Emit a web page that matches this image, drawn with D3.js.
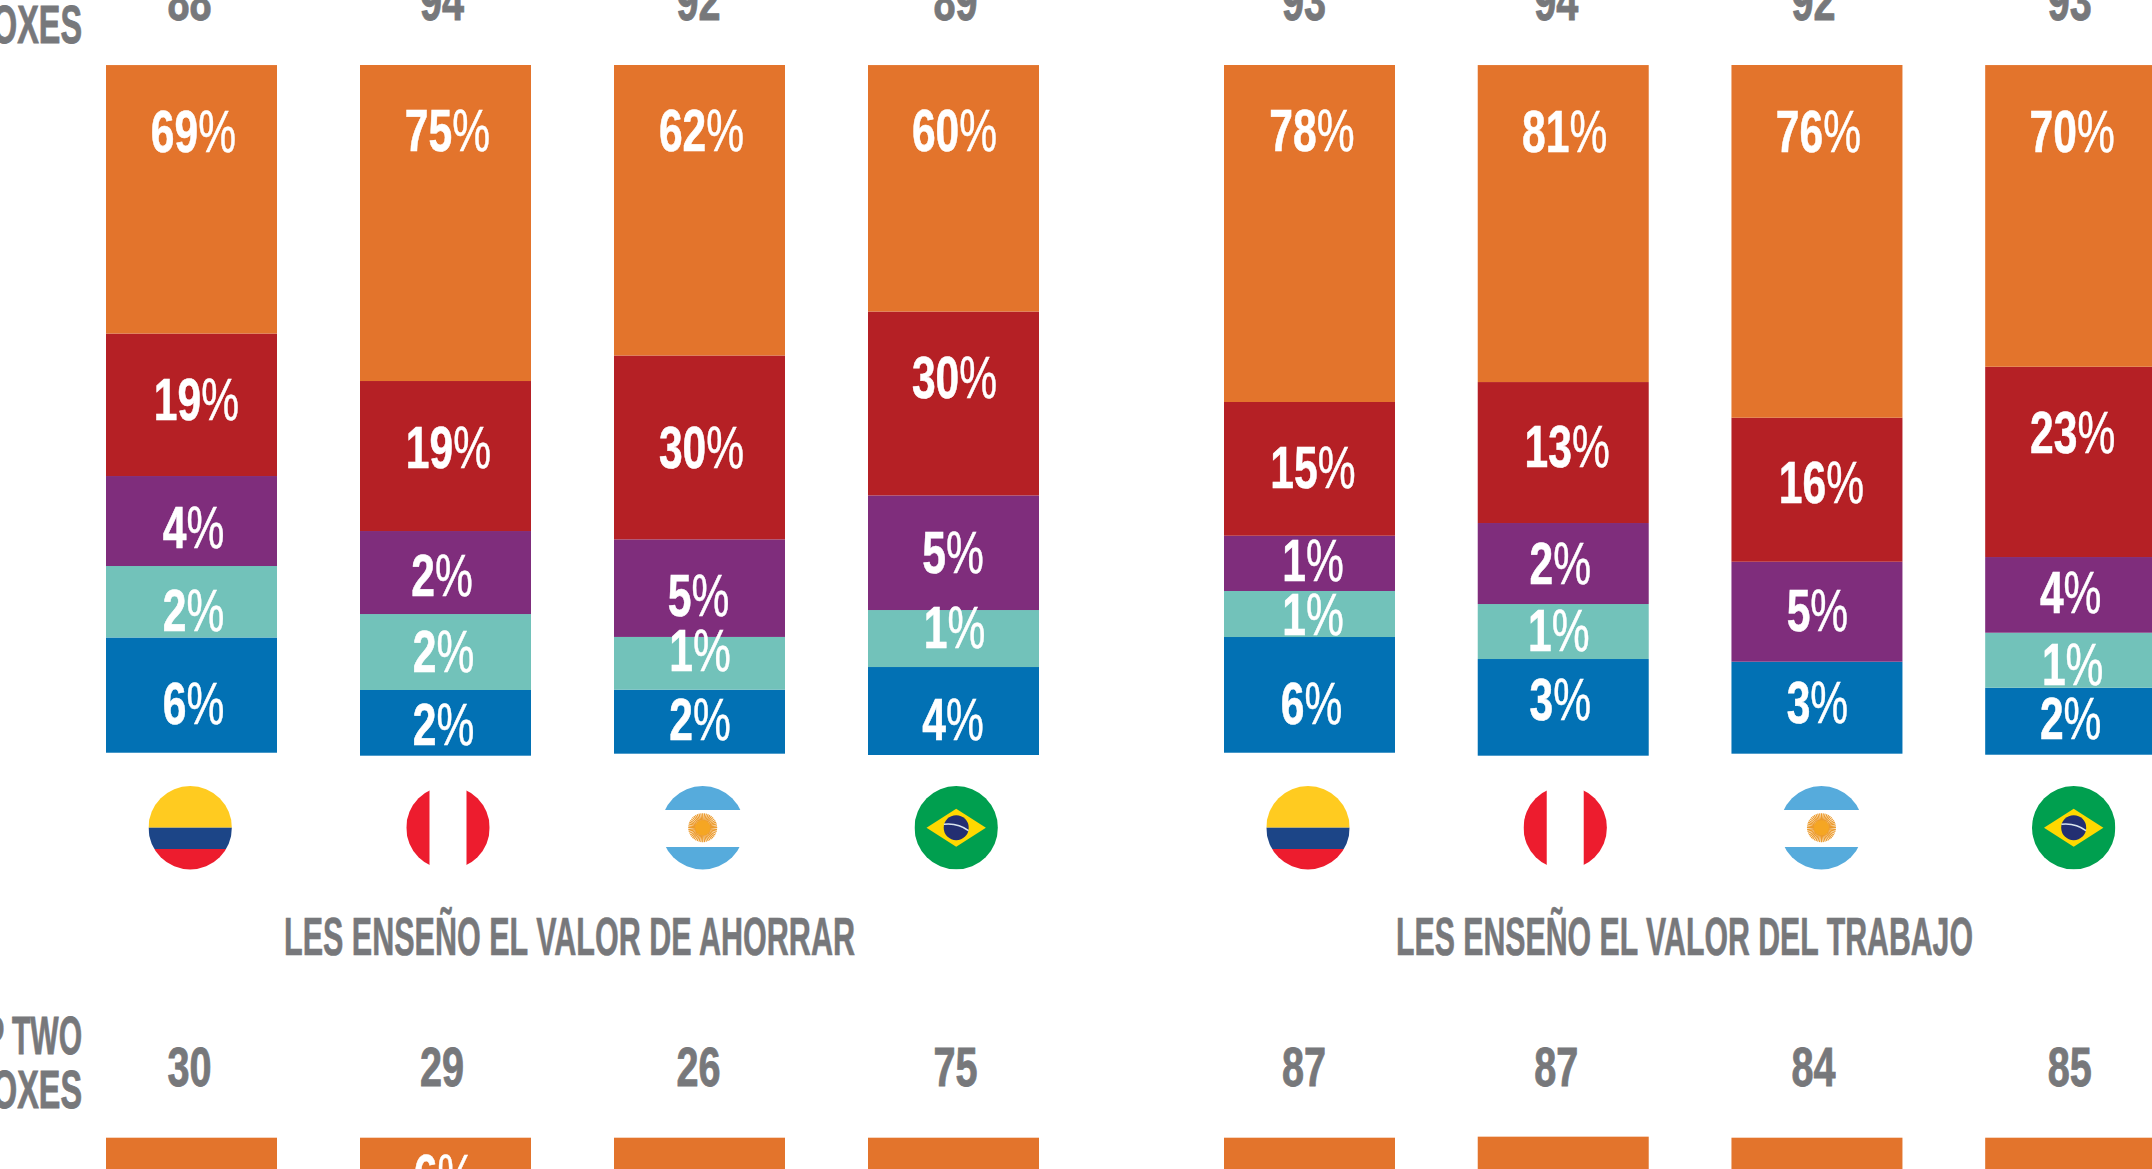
<!DOCTYPE html>
<html><head><meta charset="utf-8">
<script src="https://cdn.jsdelivr.net/npm/d3@7/dist/d3.min.js"></script>
<style>html,body{margin:0;padding:0;background:#fff;overflow:hidden}svg{display:block}
text{font-family:"Liberation Sans Narrow","Liberation Sans",sans-serif;font-weight:700}</style>
</head><body><svg id="c" width="2152" height="1169"></svg>
<script>
// ---------- data ----------
const countries = ["Colombia","Perú","Argentina","Brasil"];
const topTwoRow1 = [88,94,92,89,93,94,92,93];
const topTwoRow2 = [30,29,26,75,87,87,84,85];
const titles = ["LES ENSEÑO EL VALOR DE AHORRAR","LES ENSEÑO EL VALOR DEL TRABAJO"];
// printed labels (%)
const labelOrange = [69,75,62,60,78,81,76,70];
const labelRed    = [19,19,30,30,15,13,16,23];
const labelPurple = [4,2,5,5,1,2,5,4];
const labelTeal   = [2,2,1,1,1,1,null,1];
const labelBlue   = [6,2,2,4,6,3,3,2];
// drawn segment sizes (% of column height)
const baseShare   = [0.33,-0.10,0.19,0,0.33,-0.10,0.19,0.04];
const blueShare   = [16.70,9.52,9.28,12.75,16.77,14.01,13.33,9.71];
const tealShare   = [10.36,11.01,7.64,8.26,6.67,7.97,0,7.97];
const purpleShare = [13.04,12.03,14.14,16.61,8.01,11.74,14.49,10.97];
const redShare    = [20.65,21.74,26.65,26.65,19.38,20.43,20.87,27.58];
const orangeShare = [38.91,45.80,42.10,35.72,48.84,45.94,51.12,43.72];
// second row: only the top of the orange segment is visible
const orangeShareRow2 = [6,6,6,6,6,6.15,6,6];
const labelOrangeRow2 = [null,6,null,null,null,null,null,null];

// ---------- layout (offsets of labels from their bar / segment centre, px) ----------
const seriesKeys = ["base","blue","teal","purple","red","orange"];
const colors = {blue:"#0271B4",teal:"#72C2BA",purple:"#7F2D7C",red:"#B52025",orange:"#E3742C"};
const gray = "#77787B";
const labelDx = {
 orange:[2,2,2,1,2.5,1.5,1.5,1.5], red:[5,3,2,1,3.5,4,4.5,2], purple:[2,-3.5,-1,-.5,3.5,-3,.5,0],
 teal:[2,-2,.5,1,3.5,-4.5,0,2], blue:[2,-2,.5,-.5,2,-3,.5,0]};
const labelDy = {
 orange:[-69,-93.5,-80.5,-58.5,-103.5,-93.5,-111.35,-85.85], red:[-6,-10,-1,-27,-2.5,-7,-8,-30.5],
 purple:[5,1.5,6.5,-1,-3.7,-1.5,-2,-3.5], teal:[8,-2,-13.5,-12,-.5,-2,0,3], blue:[7,1,-3.5,7,7.7,-8.4,-6.5,-4]};
const numDx = [-2,-3.5,-1,2,-5.5,-7,-3.5,-1];
const flagDx = [-1.3,2.5,3.2,2.7,-1.5,2,4.5,3];
const flagNames = ["co","pe","ar","br","co","pe","ar","br"];

// ---------- scales ----------
const barIds = d3.range(8);
const xP1 = d3.scaleBand().domain([0,1,2,3]).range([106,1039]).paddingInner(0.3268).paddingOuter(0);
const xP2 = d3.scaleBand().domain([4,5,6,7]).range([1224,2156]).paddingInner(0.3268).paddingOuter(0);
const xOf = i => i<4 ? xP1(i) : xP2(i);
const bw = xP1.bandwidth();
const cx = i => xOf(i)+bw/2;
const y1 = d3.scaleLinear().domain([0,100]).range([755,65]);
const y2 = d3.scaleLinear().domain([0,100]).range([1827.7,1137.7]);

const rows = barIds.map(i=>({i,base:baseShare[i],blue:blueShare[i],teal:tealShare[i],purple:purpleShare[i],red:redShare[i],orange:orangeShare[i]}));
const stacked = d3.stack().keys(seriesKeys)(rows);
const labelsOf = {orange:labelOrange,red:labelRed,purple:labelPurple,teal:labelTeal,blue:labelBlue};

const svg = d3.select("#c");

// ---------- text helpers: condensed face via horizontal scale ----------
function put(g,str,x,y,size,fill,sx,anchor){
  return g.append("text").attr("transform",`translate(${x},${y}) scale(${sx},1)`)
    .attr("font-size",size).attr("fill",fill).attr("stroke",fill).attr("stroke-width",0.9)
    .attr("text-anchor",anchor||"middle").text(str);
}
function pct(g,v,x,yc){
  const t = g.append("text").attr("transform",`translate(${x},${yc+21.5}) scale(0.71,1)`)
    .attr("font-size",60).attr("fill","#fff").attr("text-anchor","middle");
  t.append("tspan").attr("stroke","#fff").attr("stroke-width",0.6).text(v);
  t.append("tspan").attr("font-weight",400).attr("stroke","#fff").attr("stroke-width",0.5).text("%");
}

// ---------- bars, row 1 ----------
const gBars = svg.append("g");
stacked.filter(s=>s.key!=="base").forEach(s=>{
  gBars.selectAll(null).data(s.filter(d=>d[1]-d[0]>0)).join("rect")
    .attr("x",d=>xOf(d.data.i)).attr("width",bw)
    .attr("y",d=>y1(d[1])).attr("height",d=>y1(d[0])-y1(d[1]))
    .attr("fill",colors[s.key]);
});
// ---------- bars, row 2 ----------
svg.append("g").selectAll("rect").data(orangeShareRow2).join("rect")
  .attr("x",(d,i)=>xOf(i)).attr("width",bw)
  .attr("y",(d)=>y2(94+d)).attr("height",d=>y2(94)-y2(94+d))
  .attr("fill",colors.orange);

// ---------- percentage labels ----------
const gL = svg.append("g");
stacked.filter(s=>s.key!=="base").forEach(s=>{
  s.forEach((d,i)=>{
    const v = labelsOf[s.key][i];
    if(v==null) return;
    const mid = (y1(d[0])+y1(d[1]))/2;
    pct(gL,v,cx(i)+labelDx[s.key][i],mid+labelDy[s.key][i]);
  });
});
labelOrangeRow2.forEach((v,i)=>{ if(v!=null) pct(gL,v,cx(i)-1,1174); });

// ---------- top-two numbers, titles, left captions ----------
const gT = svg.append("g");
topTwoRow1.forEach((v,i)=>put(gT,v,cx(i)+numDx[i],20,55,gray,0.72));
topTwoRow2.forEach((v,i)=>put(gT,v,cx(i)+numDx[i],1086,55,gray,0.72));
[[-11,"TOP TWO",0.556],[43,"BOXES",0.6],[1054,"TOP TWO",0.556],[1108,"BOXES",0.6]].forEach(([y,s,sx])=>put(gT,s,82,y,54,gray,sx,"end"));
[[284,855],[1396,1973]].forEach(([a,b],k)=>{
  gT.append("text").attr("x",a).attr("y",955).attr("font-size",53).attr("fill",gray)
    .attr("stroke",gray).attr("stroke-width",0.6)
    .attr("textLength",b-a).attr("lengthAdjust","spacingAndGlyphs").text(titles[k]);
});

// ---------- flags ----------
const R=41.7, fy=827.7;
const defs=svg.append("defs");
flagNames.forEach((f,i)=>{
  const x0=cx(i)+flagDx[i];
  const id="clip"+i;
  defs.append("clipPath").attr("id",id).append("circle").attr("cx",x0).attr("cy",fy).attr("r",R);
  const g=svg.append("g").attr("clip-path",`url(#${id})`);
  const band=(x,y,w,h,c)=>g.append("rect").attr("x",x).attr("y",y).attr("width",w).attr("height",h).attr("fill",c);
  if(f==="co"){
    band(x0-R,fy-R,2*R,R,"#FFCB20"); band(x0-R,fy,2*R,21.3,"#1C4587"); band(x0-R,fy+21.3,2*R,R,"#ED1C2E");
  } else if(f==="pe"){
    band(x0-R,fy-R,R-18.5,2*R,"#ED1C2E"); band(x0+18.5,fy-R,R-18.5,2*R,"#ED1C2E");
  } else if(f==="ar"){
    band(x0-R,fy-R,2*R,R-17.7,"#56ABDC"); band(x0-R,fy+19.3,2*R,R,"#56ABDC");
    g.selectAll("line.r").data(d3.range(48)).join("line")
      .attr("x1",x0).attr("y1",fy).attr("x2",d=>x0+14.5*Math.cos(d*Math.PI/24)).attr("y2",d=>fy+14.5*Math.sin(d*Math.PI/24))
      .attr("stroke","#EC9B2E").attr("stroke-width",1.2);
    g.append("circle").attr("cx",x0).attr("cy",fy).attr("r",7.5).attr("fill","#F5A623");
  } else {
    band(x0-R,fy-R,2*R,2*R,"#009F4F");
    g.append("polygon").attr("points",[[x0-29.7,fy],[x0,fy-19],[x0+29.7,fy],[x0,fy+19]].join(" ")).attr("fill","#FFD800");
    g.append("circle").attr("cx",x0).attr("cy",fy).attr("r",12.5).attr("fill","#232F72");
    g.append("path").attr("d",`M${x0-12.3},${fy-3.5} Q${x0+2},${fy-5} ${x0+12.3},${fy+3}`).attr("fill","none").attr("stroke","#D9E4EE").attr("stroke-width",1.6);
  }
});
</script></body></html>
